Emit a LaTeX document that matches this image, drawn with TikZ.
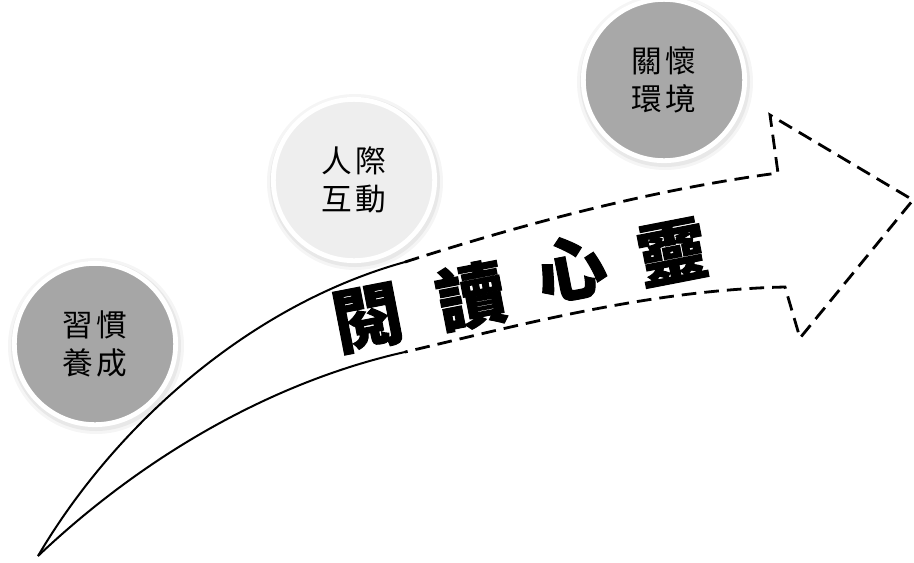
\documentclass[tikz,border=0pt]{standalone}
\usepackage{fontspec}
\newfontfamily\cjk{Noto Sans CJK TC}
\newfontfamily\cjkheavy{Noto Sans CJK TC}[BoldFeatures={FakeBold=1.5}]
\tikzset{
  bubble/.style={circle, minimum size=121pt, inner sep=0pt, align=center,
    draw=white, line width=3.6pt, font=\cjk\fontsize{23pt}{29pt}\selectfont, text=black},
  solidedge/.style={line width=1.5pt, line join=round},
  dashedge/.style={line width=2.1pt, dash pattern=on 11pt off 6pt, line join=miter},
  bigchar/.style={font=\cjkheavy\bfseries\fontsize{52pt}{52pt}\selectfont, rotate=11, inner sep=0pt}
}
\newcommand{\gp}{\hspace{3pt}}
\begin{document}
\begin{tikzpicture}[x=0.75pt, y=-0.75pt]
\useasboundingbox (0,0) rectangle (914,562);
\fill[white] (0,0) rectangle (914,562);

% arrow body
\coordinate (tip) at (38,556);
\coordinate (ujoin) at (405,262);
\coordinate (ljoin) at (405,352);
\coordinate (uin) at (778,173);
\coordinate (uout) at (770,115);
\coordinate (head) at (913,200);
\coordinate (lout) at (800,338);
\coordinate (lin) at (785,287);

\draw[solidedge] (tip) .. controls (115,425) and (250,305) .. (ujoin);
\draw[solidedge] (tip) .. controls (150,450) and (280,380) .. (ljoin);
\draw[dashedge] (ujoin) .. controls (520,225) and (650,190) .. (uin) -- (uout) -- (head) -- (lout) -- (lin) .. controls (650,290) and (520,325) .. (ljoin);

% arrow text
\node[bigchar] (c1) at (368,318) {閱};
\node[bigchar] (c2) at (471,296) {讀};
\node[bigchar] (c3) at (571,268) {心};
\node[bigchar] (c4) at (672,252) {靈};

% bubble shadows
\foreach \cx/\cy in {95/344, 354/180, 664/80}{
  \fill[black, opacity=0.04] (\cx+1,\cy+2) circle (88);
  \fill[black, opacity=0.05] (\cx+1,\cy+2) circle (85);
}

% bubbles
\node[bubble, fill={rgb,255:red,166;green,166;blue,166}] (habit) at (95,344) {習\gp 慣\\養\gp 成};
\node[bubble, fill={rgb,255:red,238;green,238;blue,238}] (people) at (354,180) {人\gp 際\\互\gp 動};
\node[bubble, fill={rgb,255:red,168;green,168;blue,168}] (env) at (664,80) {關\gp 懷\\環\gp 境};
\end{tikzpicture}
\end{document}
